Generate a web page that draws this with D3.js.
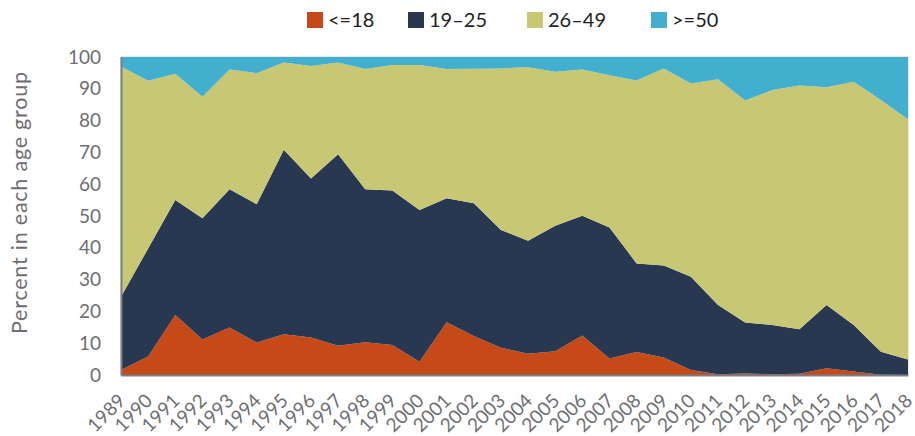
<!DOCTYPE html>
<html><head><meta charset="utf-8">
<script src="https://cdn.jsdelivr.net/npm/d3@7"></script>
<style>
body{margin:0;background:#fff;}
svg{display:block;font-family:Lato,"Open Sans",sans-serif;}
</style></head>
<body>
<svg id="chart" width="915" height="436"></svg>
<script>
const years = [1989,1990,1991,1992,1993,1994,1995,1996,1997,1998,1999,2000,2001,2002,2003,2004,2005,2006,2007,2008,2009,2010,2011,2012,2013,2014,2015,2016,2017,2018];
const seriesNames = ["<=18","19\u201325","26\u201349",">=50"];
const under18 = [1.6,5.8,18.9,11.2,14.9,10.2,12.8,11.8,9.2,10.3,9.4,4.2,16.6,12.3,8.6,6.7,7.5,12.4,5.2,7.2,5.5,1.6,0.2,0.5,0.2,0.4,2.1,1.1,0.1,0];
const age19to25 = [23.0,34.0,36.1,38.1,43.5,43.5,58.0,50.0,60.2,48.1,48.6,47.7,39.0,41.7,37.0,35.5,39.4,37.7,41.2,27.9,28.9,29.3,21.8,16.0,15.5,14.0,19.9,14.6,7.2,4.9];
const age26to49 = [72.4,52.7,39.7,38.2,37.7,41.2,27.5,35.4,28.9,37.8,39.5,45.6,40.6,42.3,50.8,54.6,48.5,46.0,47.9,57.5,62.0,60.8,71.0,69.8,73.9,76.6,68.5,76.5,79.2,75.5];
const age50plus = [3.0,7.5,5.3,12.5,3.9,5.1,1.7,2.8,1.7,3.8,2.5,2.5,3.8,3.7,3.6,3.2,4.6,3.9,5.7,7.4,3.6,8.3,7.0,13.7,10.4,9.0,9.5,7.8,13.5,19.6];
const yTicks = [0,10,20,30,40,50,60,70,80,90,100];
const colors = ["#C64A18","#283850","#C8C774","#43AFCE"];

const table = years.map((yr,i)=>({year:yr,[seriesNames[0]]:under18[i],[seriesNames[1]]:age19to25[i],[seriesNames[2]]:age26to49[i],[seriesNames[3]]:age50plus[i]}));

const svg = d3.select("#chart");
const x = d3.scaleLinear().domain([1989,2018]).range([121,908]);
const y = d3.scaleLinear().domain([0,100]).range([375,57]);

const stacked = d3.stack().keys(seriesNames)(table);
const area = d3.area().x(d=>x(d.data.year)).y0(d=>y(d[0])).y1(d=>y(d[1]));

// plot frame
svg.append("rect").attr("x",121).attr("y",57).attr("width",787).attr("height",318)
  .attr("fill","none").attr("stroke","#d4d4d4").attr("stroke-width",1);

svg.append("g").selectAll("path").data(stacked).join("path")
  .attr("d",area).attr("fill",(d,i)=>colors[i]);

// y axis
const yAxis = svg.append("g").attr("transform","translate(121,0)")
  .call(d3.axisLeft(y).tickValues(yTicks).tickSize(0).tickPadding(20));
yAxis.select(".domain").attr("stroke","#7a7f87").attr("stroke-width",2);
yAxis.selectAll("text").attr("fill","#6d6e71").attr("font-size",19).attr("font-family","Lato,sans-serif");

// x axis
const xAxis = svg.append("g").attr("transform","translate(0,375)")
  .call(d3.axisBottom(x).tickValues(years).tickFormat(d3.format("d")).tickSize(0));
xAxis.select(".domain").attr("stroke","#7a7f87").attr("stroke-width",2);
xAxis.selectAll("text")
  .attr("fill","#6d6e71").attr("font-size",19).attr("font-family","Lato,sans-serif")
  .attr("text-anchor","end").attr("dy",null).attr("y",0)
  .attr("transform","translate(5,27) rotate(-45)");

// y title
svg.append("text").attr("transform","translate(27,203) rotate(-90)")
  .attr("text-anchor","middle").attr("font-size",21.5).attr("fill","#6d6e71")
  .attr("textLength",262).attr("lengthAdjust","spacing")
  .text("Percent in each age group");

// legend
const legendX = [307,408,527,651];
const lg = svg.append("g");
seriesNames.forEach((n,i)=>{
  lg.append("rect").attr("x",legendX[i]).attr("y",12).attr("width",16).attr("height",16).attr("fill",colors[i]);
  lg.append("text").attr("x",legendX[i]+21).attr("y",27).attr("font-size",20).attr("fill","#231f20").text(n);
});
</script>
</body></html>
